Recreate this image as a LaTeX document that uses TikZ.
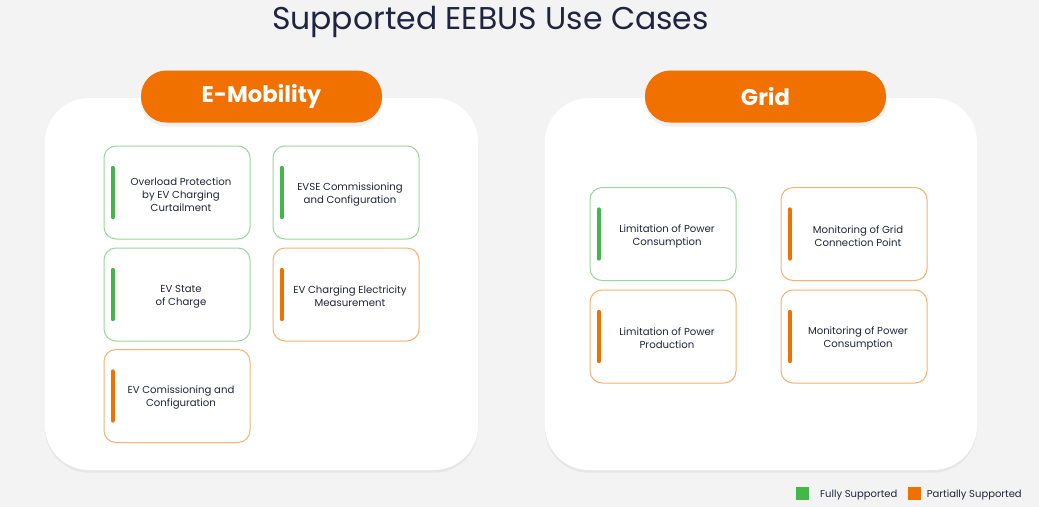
\documentclass[tikz,border=0pt]{standalone}
\usepackage{fontspec}
\setmainfont{Poppins}
\usetikzlibrary{shadows}
\definecolor{bggrey}{HTML}{F3F3F3}
\definecolor{evorange}{HTML}{F07000}
\definecolor{fullgreen}{HTML}{45B649}
\definecolor{titlenavy}{HTML}{1F2541}
\definecolor{textnavy}{HTML}{22253A}
\begin{document}
\begin{tikzpicture}[x=0.75pt, y=-0.75pt, line join=round, line cap=round,
  panel/.style={fill=white, rounded corners=33pt, drop shadow={shadow xshift=0pt, shadow yshift=-2pt, opacity=0.05, fill=black}},
  pill/.style={fill=evorange, rounded corners=19pt, minimum width=180.75pt, minimum height=39pt, text=white, font=\fontsize{17}{17}\selectfont\bfseries, drop shadow={shadow xshift=0pt, shadow yshift=-3pt, opacity=0.06, fill=black}},
  card/.style={draw=#1!55, fill=white, line width=0.75pt, rounded corners=9pt, minimum width=109.5pt, minimum height=69.75pt},
  cardtext/.style={align=center, text=textnavy, font=\fontsize{7.6}{9.75}\selectfont},
  bar/.style={line width=3pt, draw=#1},
  legbox/.style={minimum size=9.75pt, inner sep=0pt}]
\fill[bggrey] (0,0) rectangle (1039,507);
\useasboundingbox (0,0) rectangle (1039,507);
\node[text=titlenavy, font=\fontsize{23.6}{23.6}\selectfont] (title) at (490.5,22) {Supported EEBUS Use Cases};
% panels with their headers
\path[panel] (45,98) rectangle (478,470);
\path[panel] (545,98) rectangle (977,470);
\node[pill] (emob) at (261.5,96.5) {E-Mobility};
\node[pill] (grid) at (765.5,96.5) {Grid};
% use case cards
\foreach \n/\x/\y/\c/\t in {
  ovl/177/192.5/fullgreen/{Overload Protection\\by EV Charging\\Curtailment},
  evse/346/192.5/fullgreen/{EVSE Commissioning\\and Configuration},
  soc/177/294.5/fullgreen/{EV State\\of Charge},
  meas/346/294.5/evorange/{EV Charging Electricity\\Measurement},
  evcom/177/396/evorange/{EV Comissioning and\\Configuration},
  lpc/663/234/fullgreen/{Limitation of Power\\Consumption},
  mgcp/854/234/evorange/{Monitoring of Grid\\Connection Point},
  lpp/663/336.5/evorange/{Limitation of Power\\Production},
  mpc/854/336.5/evorange/{Monitoring of Power\\Consumption}}{
  \node[card=\c] (\n) at (\x,\y) {};
  \node[cardtext] at ([xshift=3pt,yshift=-1.5pt]\n.center) {\t};
  \draw[bar=\c] ([xshift=7pt,yshift=18.5pt]\n.west) -- ([xshift=7pt,yshift=-18.5pt]\n.west);
}
% legend
\node[legbox, fill=fullgreen] (lgf) at (802.5,493.5) {};
\node[legbox, fill=evorange] (lgp) at (914.5,493.5) {};
\node[anchor=west, text=textnavy, font=\fontsize{7.5}{9}\selectfont, inner sep=0pt] at ([xshift=8pt,yshift=-1pt]lgf.east) {Fully Supported};
\node[anchor=west, text=textnavy, font=\fontsize{7.5}{9}\selectfont, inner sep=0pt] at ([xshift=4pt,yshift=-1pt]lgp.east) {Partially Supported};
\end{tikzpicture}
\end{document}
